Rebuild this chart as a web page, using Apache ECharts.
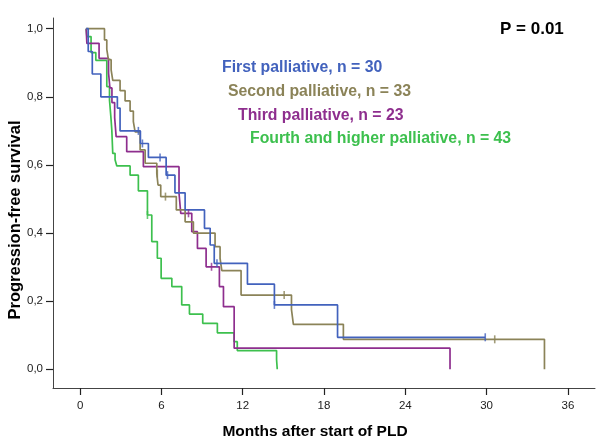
<!DOCTYPE html>
<html><head><meta charset="utf-8">
<script src="https://cdn.jsdelivr.net/npm/echarts@6/dist/echarts.min.js"></script>
<style>html,body{margin:0;padding:0;background:#fff}#c{width:600px;height:439px}</style>
</head><body><div id="c"></div>
<script>
// ---- data ----
const xTicks = [0, 6, 12, 18, 24, 30, 36];
const yTicks = [0, 0.2, 0.4, 0.6, 0.8, 1.0];
const groupNames = ['First palliative, n = 30', 'Second palliative, n = 33', 'Third palliative, n = 23', 'Fourth and higher palliative, n = 43'];
const pValueText = 'P = 0.01';

const firstT = [0.45, 0.6, 0.9, 1.53, 2.75, 2.95, 4.45, 5.04, 6.35, 7.0, 7.75, 9.18, 9.6, 9.9, 12.35, 14.34, 19.0, 29.9];
const firstS = [1.0, 0.933, 0.867, 0.80, 0.767, 0.70, 0.663, 0.622, 0.570, 0.518, 0.468, 0.414, 0.365, 0.311, 0.25, 0.189, 0.094, 0.094];
const firstCensT = [4.3, 4.6, 5.9, 6.45, 10.1, 14.34, 29.9];
const firstCensS = [0.70, 0.663, 0.622, 0.570, 0.311, 0.189, 0.094];

const secondT = [0.45, 1.8, 1.97, 2.09, 2.29, 2.41, 2.95, 3.32, 3.69, 3.93, 4.06, 4.43, 4.8, 5.66, 5.75, 5.95, 7.1, 7.75, 8.36, 9.96, 10.33, 10.46, 11.88, 15.6, 15.74, 19.43, 34.27];
const secondS = [1.0, 0.967, 0.939, 0.909, 0.879, 0.848, 0.818, 0.788, 0.758, 0.727, 0.697, 0.644, 0.605, 0.575, 0.541, 0.507, 0.468, 0.433, 0.40, 0.36, 0.326, 0.29, 0.218, 0.175, 0.132, 0.088, 0.0];
const secondCensT = [5.7, 6.3, 15.06, 30.6];
const secondCensS = [0.575, 0.507, 0.218, 0.088];

const thirdT = [0.45, 0.5, 1.4, 2.1, 2.2, 2.35, 2.55, 2.66, 3.44, 4.67, 7.3, 7.43, 8.24, 8.66, 9.3, 10.28, 10.58, 11.37, 27.3];
const thirdS = [1.0, 0.957, 0.913, 0.870, 0.826, 0.783, 0.739, 0.683, 0.639, 0.595, 0.517, 0.458, 0.404, 0.355, 0.301, 0.243, 0.184, 0.062, 0.0];
const thirdCensT = [8.0, 9.7];
const thirdCensS = [0.458, 0.301];

const fourthT = [0.45, 0.5, 0.81, 1.16, 1.97, 2.17, 2.27, 2.34, 2.41, 2.58, 2.71, 3.69, 4.3, 4.97, 5.29, 5.7, 5.98, 6.77, 7.5, 8.07, 9.05, 10.13, 11.37, 11.6, 14.5, 14.55];
const fourthS = [1.0, 0.977, 0.93, 0.907, 0.83, 0.79, 0.742, 0.703, 0.634, 0.615, 0.597, 0.570, 0.524, 0.453, 0.375, 0.326, 0.267, 0.243, 0.189, 0.162, 0.135, 0.107, 0.081, 0.055, 0.028, 0.0];
const fourthCensT = [4.97];
const fourthCensS = [0.453];

// ---- styling ----
const colors = ['#4262BD', '#8B8358', '#8E2E8E', '#3DC04E'];
const FONT = '"Liberation Sans", Arial, Helvetica, sans-serif';

const zip = (a, b) => a.map((v, i) => [v, b[i]]);
const curves = [[firstT, firstS], [secondT, secondS], [thirdT, thirdS], [fourthT, fourthS]];
const cens = [[firstCensT, firstCensS], [secondCensT, secondCensS], [thirdCensT, thirdCensS], [fourthCensT, fourthCensS]];

const series = [];
curves.forEach((c, i) => {
  series.push({
    type: 'line', name: groupNames[i], step: 'end', data: zip(c[0], c[1]),
    showSymbol: false, symbol: 'none', lineStyle: { color: colors[i], width: 1.7 },
    itemStyle: { color: colors[i] }, z: 2 + (3 - i), animation: false
  });
});
cens.forEach((c, i) => {
  series.push({
    type: 'scatter', data: zip(c[0], c[1]), symbol: 'rect', symbolSize: [1.6, 8],
    itemStyle: { color: colors[i] }, z: 10, animation: false
  });
});

const chart = echarts.init(document.getElementById('c'), null, { renderer: 'canvas' });
chart.setOption({
  animation: false,
  backgroundColor: '#fff',
  grid: { left: 53, right: 5, top: 18, bottom: 51, containLabel: false, outerBoundsMode: 'none' },
  xAxis: {
    type: 'value', min: -2, max: 38,
    splitLine: { show: false },
    axisLine: { show: true, onZero: false, lineStyle: { color: '#444', width: 1 } },
    axisTick: { show: true, length: 7, customValues: xTicks, lineStyle: { color: '#222', width: 1.2 } },
    axisLabel: { customValues: xTicks, color: '#222', fontSize: 11.5, fontFamily: FONT, margin: 12 }
  },
  yAxis: {
    type: 'value', min: -0.0549, max: 1.0314,
    splitLine: { show: false },
    axisLine: { show: true, onZero: false, lineStyle: { color: '#444', width: 1 } },
    axisTick: { show: true, length: 7, customValues: yTicks, lineStyle: { color: '#222', width: 1.2 } },
    axisLabel: { customValues: yTicks, color: '#222', fontSize: 11.5, fontFamily: FONT, margin: 10,
      formatter: v => v.toFixed(1).replace('.', ',') }
  },
  graphic: [
    { type: 'text', left: 500, top: 21, style: { text: pValueText, font: 'bold 17px ' + FONT, fill: '#000' } },
    { type: 'text', left: 222, top: 60, style: { text: groupNames[0], font: 'bold 15.8px ' + FONT, fill: colors[0] } },
    { type: 'text', left: 228, top: 84, style: { text: groupNames[1], font: 'bold 15.8px ' + FONT, fill: colors[1] } },
    { type: 'text', left: 238, top: 108, style: { text: groupNames[2], font: 'bold 15.8px ' + FONT, fill: colors[2] } },
    { type: 'text', left: 250, top: 131, style: { text: groupNames[3], font: 'bold 15.8px ' + FONT, fill: colors[3] } },
    { type: 'text', x: 315, y: 432, style: { text: 'Months after start of PLD', font: 'bold 15.5px ' + FONT, fill: '#000', align: 'center', verticalAlign: 'middle' } },
    { type: 'text', x: 15, y: 220, rotation: Math.PI / 2, style: { text: 'Progression-free survival', font: 'bold 16.5px ' + FONT, fill: '#000', align: 'center', verticalAlign: 'middle' } }
  ],
  series: series
});
</script></body></html>
